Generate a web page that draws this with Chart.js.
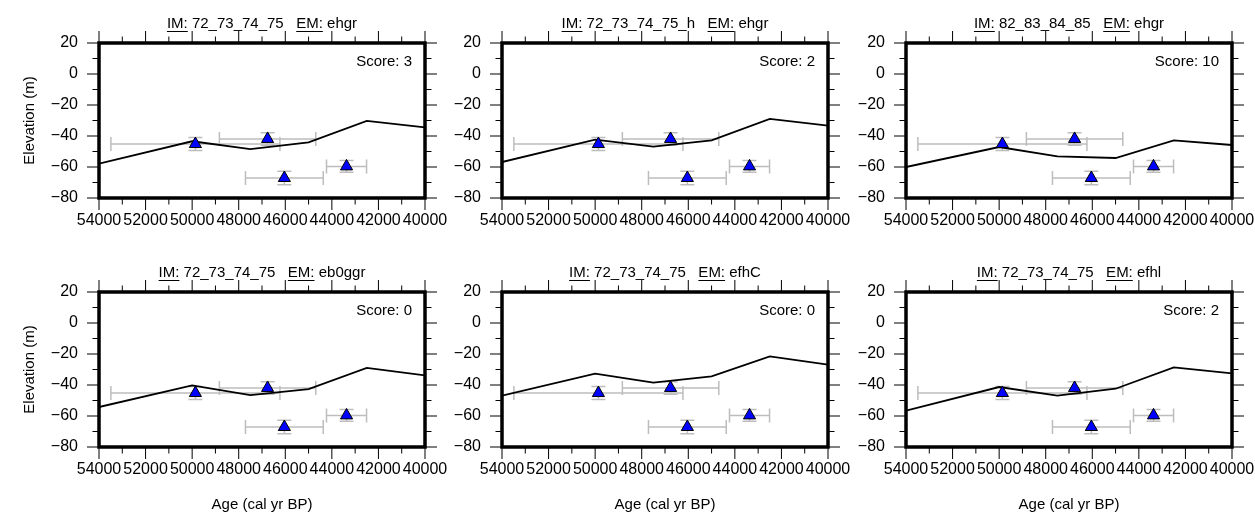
<!DOCTYPE html>
<html>
<head>
<meta charset="utf-8">
<title>Model fits</title>
<script src="https://cdn.jsdelivr.net/npm/chart.js@4.4.0/dist/chart.umd.min.js"></script>
<style>
  body { margin: 0; background: #fff; }
  #wrap { position: relative; width: 1255px; height: 517px; overflow: hidden; }
  #wrap canvas { position: absolute; }
</style>
</head>
<body>
<div id="wrap"></div>
<script>
// observed sea-level points, same in every panel
const obsAge = [49860, 46760, 46040, 43370];
const obsAgeErr = [3630, 2070, 1670, 860];
const obsElev = [-45.2, -41.9, -67.1, -59.6];
const obsElevErr = [4.2, 4.0, 4.3, 3.8];

// model curves, one per panel
const modelAge = [54000, 50000, 47500, 45000, 42500, 40000];
const modelIm72 = [-57.8, -43.4, -48.4, -44.1, -30.3, -34.4];
const modelIm72h = [-56.8, -42.4, -46.9, -42.8, -29.0, -33.3];
const modelIm82 = [-60.0, -47.1, -53.1, -54.2, -42.8, -45.8];
const modelEb0ggr = [-54.2, -40.2, -46.5, -42.6, -29.0, -33.8];
const modelEfhC = [-46.9, -32.7, -38.5, -34.4, -21.5, -26.9];
const modelEfhl = [-56.6, -41.3, -46.9, -42.4, -28.6, -32.5];

const imLabels = ['72_73_74_75', '72_73_74_75_h', '82_83_84_85', '72_73_74_75', '72_73_74_75', '72_73_74_75'];
const emLabels = ['ehgr', 'ehgr', 'ehgr', 'eb0ggr', 'efhC', 'efhl'];
const scores = [3, 2, 10, 0, 0, 2];
const models = [modelIm72, modelIm72h, modelIm82, modelEb0ggr, modelEfhC, modelEfhl];

const xTickLabels = [54000, 52000, 50000, 48000, 46000, 44000, 42000, 40000];
const yTickLabels = [-80, -60, -40, -20, 0, 20];

const FONT = "'Liberation Sans', Arial, Helvetica, sans-serif";
const colLeft = [99, 502, 906];
const rowTop = [43, 292];
const plotW = 326, plotH = 155;
const padL = 99, padT = 43, padR = 25, padB = 70;

// frame, ticks on all four sides, titles and error bars
const gmtFrame = {
    id: 'gmtFrame',
    beforeDatasetsDraw(chart) {
        const ctx = chart.ctx;
        const xs = chart.scales.x, ys = chart.scales.y;
        ctx.save();
        ctx.strokeStyle = '#bdbdbd';
        ctx.lineWidth = 1.5;
        for (let i = 0; i < obsAge.length; i++) {
            const px = xs.getPixelForValue(obsAge[i]);
            const py = ys.getPixelForValue(obsElev[i]);
            const x0 = xs.getPixelForValue(obsAge[i] + obsAgeErr[i]);
            const x1 = xs.getPixelForValue(obsAge[i] - obsAgeErr[i]);
            const y0 = ys.getPixelForValue(obsElev[i] + obsElevErr[i]);
            const y1 = ys.getPixelForValue(obsElev[i] - obsElevErr[i]);
            ctx.beginPath();
            ctx.moveTo(x0, py); ctx.lineTo(x1, py);
            ctx.moveTo(x0, py - 7); ctx.lineTo(x0, py + 7);
            ctx.moveTo(x1, py - 7); ctx.lineTo(x1, py + 7);
            ctx.moveTo(px, y0); ctx.lineTo(px, y1);
            ctx.moveTo(px - 7, y0); ctx.lineTo(px + 7, y0);
            ctx.moveTo(px - 7, y1); ctx.lineTo(px + 7, y1);
            ctx.stroke();
        }
        ctx.restore();
    },
    afterDraw(chart, args, opts) {
        const ctx = chart.ctx;
        const {left, right, top, bottom} = chart.chartArea;
        const xs = chart.scales.x, ys = chart.scales.y;
        ctx.save();
        ctx.strokeStyle = '#000';
        ctx.lineWidth = 1;
        ctx.beginPath();
        for (let v = 40000; v <= 54000; v += 1000) {
            const px = xs.getPixelForValue(v);
            const len = v % 2000 === 0 ? 12 : 6.5;
            ctx.moveTo(px, top); ctx.lineTo(px, top - len);
            ctx.moveTo(px, bottom); ctx.lineTo(px, bottom + len);
        }
        for (let v = -80; v <= 20; v += 10) {
            const py = ys.getPixelForValue(v);
            const len = v % 20 === 0 ? 12 : 6.5;
            ctx.moveTo(left, py); ctx.lineTo(left - len, py);
            ctx.moveTo(right, py); ctx.lineTo(right + len, py);
        }
        ctx.stroke();

        ctx.lineWidth = 3.5;
        ctx.strokeRect(left, top, right - left, bottom - top);

        ctx.fillStyle = '#000';
        ctx.font = '15px ' + FONT;
        ctx.textBaseline = 'middle';

        // title with underlined IM: / EM:
        const parts = [
            {t: 'IM:', u: true}, {t: ' ' + opts.im + '   '},
            {t: 'EM:', u: true}, {t: ' ' + opts.em}
        ];
        const total = parts.reduce((s, p) => s + ctx.measureText(p.t).width, 0);
        let tx = (left + right) / 2 - total / 2;
        const ty = top - 19;
        ctx.textAlign = 'left';
        parts.forEach(p => {
            const w = ctx.measureText(p.t).width;
            ctx.fillText(p.t, tx, ty);
            if (p.u) ctx.fillRect(tx, ty + 7, w, 1);
            tx += w;
        });

        ctx.textAlign = 'right';
        ctx.fillText('Score: ' + opts.score, right - 13, top + 19);

        ctx.textAlign = 'center';
        if (opts.xTitle) {
            ctx.fillText('Age (cal yr BP)', (left + right) / 2, bottom + 58);
        }
        if (opts.yTitle) {
            ctx.translate(left - 69, (top + bottom) / 2);
            ctx.rotate(-Math.PI / 2);
            ctx.fillText('Elevation (m)', 0, 0);
        }
        ctx.restore();
    }
};

function minusSign(v) {
    return v < 0 ? '\u2212' + Math.abs(v) : String(v);
}

function makePanel(idx) {
    const col = idx % 3, row = Math.floor(idx / 3);
    const canvas = document.createElement('canvas');
    canvas.width = padL + plotW + padR;
    canvas.height = padT + plotH + padB;
    canvas.style.left = (colLeft[col] - padL) + 'px';
    canvas.style.top = (rowTop[row] - padT) + 'px';
    document.getElementById('wrap').appendChild(canvas);

    const tickFont = { family: FONT, size: 16 };

    new Chart(canvas.getContext('2d'), {
        type: 'scatter',
        data: {
            datasets: [{
                type: 'scatter',
                data: obsAge.map((a, i) => ({ x: a, y: obsElev[i] })),
                pointStyle: 'triangle',
                pointRadius: 7,
                pointHoverRadius: 7,
                backgroundColor: '#0000ff',
                borderColor: '#000',
                borderWidth: 1
            }, {
                type: 'line',
                data: modelAge.map((a, i) => ({ x: a, y: models[idx][i] })),
                borderColor: '#000',
                borderWidth: 1.8,
                pointRadius: 0,
                fill: false,
                tension: 0
            }]
        },
        options: {
            responsive: false,
            animation: false,
            events: [],
            layout: { padding: { left: padL - 60, top: padT, right: padR, bottom: padB - 40 } },
            plugins: {
                legend: { display: false },
                tooltip: { enabled: false },
                gmtFrame: {
                    im: imLabels[idx],
                    em: emLabels[idx],
                    score: scores[idx],
                    xTitle: row === 1,
                    yTitle: col === 0
                }
            },
            scales: {
                x: {
                    type: 'linear',
                    reverse: true,
                    min: 40000,
                    max: 54000,
                    afterBuildTicks: s => { s.ticks = xTickLabels.map(v => ({ value: v })); },
                    afterFit: s => { s.height = 40; s.paddingLeft = 0; s.paddingRight = 0; },
                    grid: { display: false, drawTicks: false },
                    border: { display: false },
                    ticks: {
                        autoSkip: false,
                        maxRotation: 0,
                        padding: 13,
                        color: '#000',
                        font: tickFont,
                        callback: v => String(v)
                    }
                },
                y: {
                    type: 'linear',
                    min: -80,
                    max: 20,
                    afterBuildTicks: s => { s.ticks = yTickLabels.map(v => ({ value: v })); },
                    afterFit: s => { s.width = 60; s.paddingTop = 0; s.paddingBottom = 0; },
                    grid: { display: false, drawTicks: false },
                    border: { display: false },
                    ticks: {
                        padding: 21,
                        color: '#000',
                        font: tickFont,
                        callback: v => minusSign(v)
                    }
                }
            }
        },
        plugins: [gmtFrame]
    });
}

for (let i = 0; i < 6; i++) makePanel(i);
</script>
</body>
</html>
